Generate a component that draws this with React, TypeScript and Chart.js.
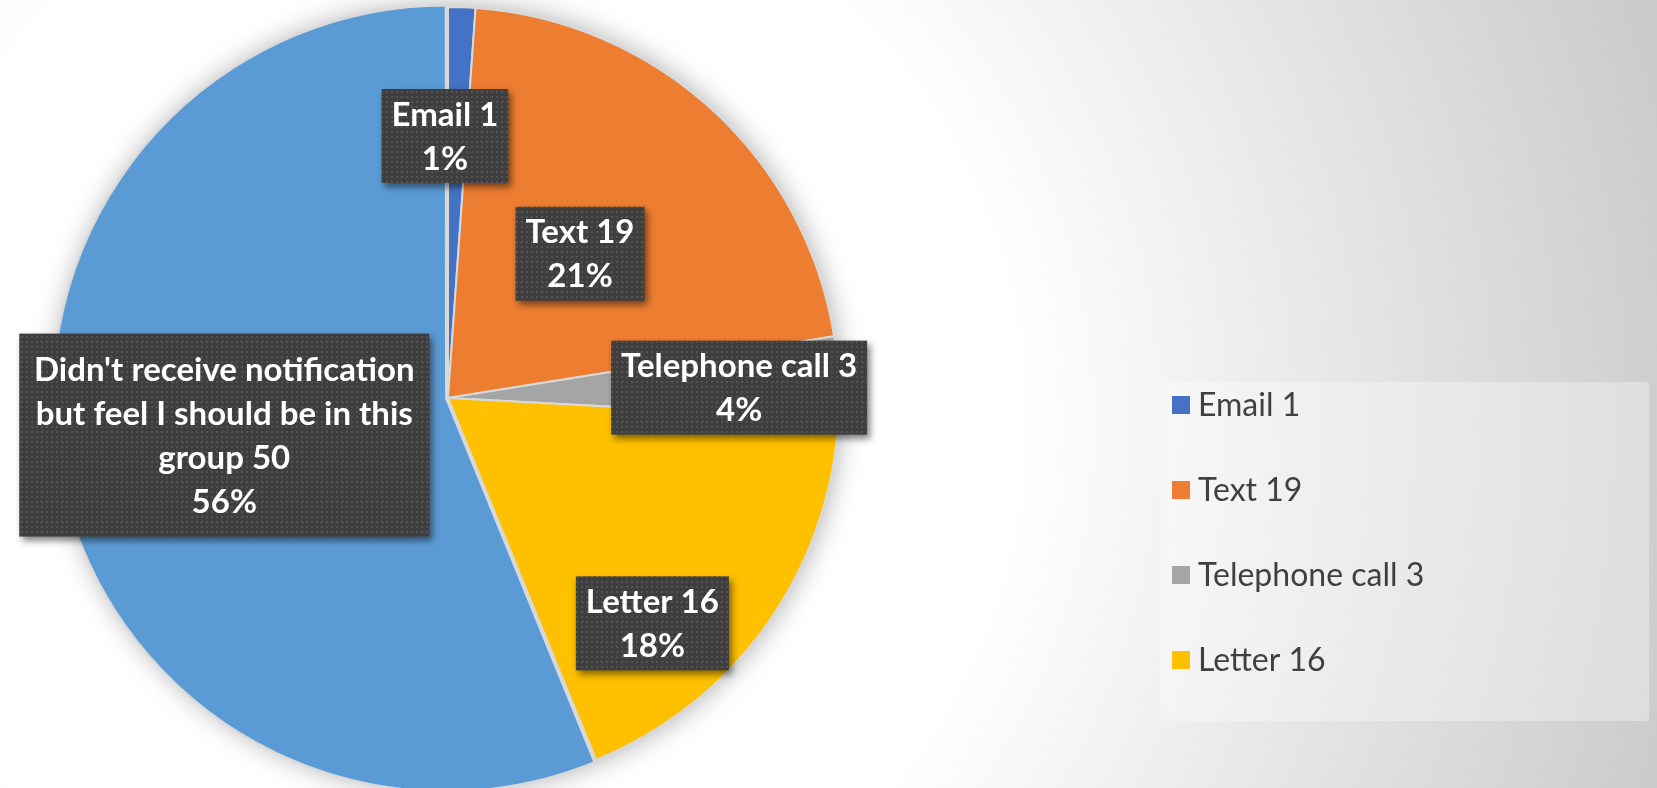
import React, { useEffect, useRef } from "react";
import { Chart, registerables } from "chart.js";

Chart.register(...registerables);

// ---- data ----
const CATEGORIES = [
  "Email",
  "Text",
  "Telephone call",
  "Letter",
  "Didn't receive notification but feel I should be in this group",
];
const COUNTS = [1, 19, 3, 16, 50];
const PERCENT_LABELS = ["1%", "21%", "4%", "18%", "56%"];
const COLORS = ["#4472C4", "#ED7D31", "#A5A5A5", "#FFC000", "#5B9BD5"];
const LEGEND_COUNT = 4; // the reference legend lists only the first four entries

// ---- label placement (style) ----
const LABEL_RADIUS = [0.67, 0.5, 0.745, 0.778, 0.58];
const LABEL_ANGLE_SHIFT = [-2.7, 0, 1, 12.4, 1.7];
const LABEL_WRAP: (number | null)[] = [null, null, null, null, 390];
const LABEL_PAD_Y = [3, 3, 3, 3, 13.5];
const LABEL_FONT = "bold 33px Lato";
const LABEL_LINE_H = 44;
const LABEL_PAD_X = 10;

function wrapText(ctx: CanvasRenderingContext2D, text: string, maxW: number | null): string[] {
  if (!maxW) return [text];
  const words = text.split(" ");
  const lines: string[] = [];
  let cur = "";
  for (const w of words) {
    const t = cur ? cur + " " + w : w;
    if (ctx.measureText(t).width > maxW && cur) {
      lines.push(cur);
      cur = w;
    } else cur = t;
  }
  if (cur) lines.push(cur);
  return lines;
}

function makePattern(ctx: CanvasRenderingContext2D) {
  const c = document.createElement("canvas");
  c.width = 5;
  c.height = 5;
  const p = c.getContext("2d")!;
  p.fillStyle = "#3e3e3e";
  p.fillRect(0, 0, 5, 5);
  p.fillStyle = "#545454";
  p.fillRect(1, 1, 2, 2);
  return ctx.createPattern(c, "repeat")!;
}

const bgPlugin = {
  id: "bg",
  beforeDraw(chart: any) {
    const { ctx, width, height } = chart;
    ctx.save();
    const g = ctx.createRadialGradient(450, 420, 0, 450, 420, 1260);
    g.addColorStop(0, "#ffffff");
    g.addColorStop(0.45, "#ffffff");
    g.addColorStop(1, "#cbcbcb");
    ctx.fillStyle = g;
    ctx.fillRect(0, 0, width, height);
    // legend panel
    ctx.fillStyle = "rgba(255,255,255,0.32)";
    ctx.fillRect(1161, 382, 488, 339);
    ctx.restore();
  },
};

const shadowPlugin = {
  id: "pieShadow",
  beforeDatasetsDraw(chart: any) {
    const meta = chart.getDatasetMeta(0);
    const arc = meta.data[0];
    if (!arc) return;
    const { x, y, outerRadius } = arc.getProps(["x", "y", "outerRadius"], true);
    const ctx = chart.ctx;
    ctx.save();
    ctx.shadowColor = "rgba(0,0,0,0.35)";
    ctx.shadowBlur = 28;
    ctx.fillStyle = "#d2d2d2";
    ctx.beginPath();
    ctx.arc(x, y, outerRadius, 0, Math.PI * 2);
    ctx.fill();
    ctx.restore();
  },
};

const labelPlugin = {
  id: "sliceLabels",
  afterDatasetsDraw(chart: any) {
    const ctx: CanvasRenderingContext2D = chart.ctx;
    const meta = chart.getDatasetMeta(0);
    const pattern = makePattern(ctx);
    meta.data.forEach((arc: any, i: number) => {
      const { x, y, startAngle, endAngle, outerRadius } = arc.getProps(
        ["x", "y", "startAngle", "endAngle", "outerRadius"],
        true
      );
      const mid = (startAngle + endAngle) / 2 + (LABEL_ANGLE_SHIFT[i] * Math.PI) / 180;
      const r = outerRadius * LABEL_RADIUS[i];
      const cx = x + Math.cos(mid) * r;
      const cy = y + Math.sin(mid) * r;
      ctx.save();
      ctx.font = LABEL_FONT;
      const lines = wrapText(ctx, chart.data.labels[i], LABEL_WRAP[i]).concat([PERCENT_LABELS[i]]);
      const textW = LABEL_WRAP[i] ?? Math.max(...lines.map((l) => ctx.measureText(l).width));
      const w = textW + 2 * LABEL_PAD_X;
      const h = lines.length * LABEL_LINE_H + 2 * LABEL_PAD_Y[i];
      const left = cx - w / 2;
      const top = cy - h / 2;
      ctx.shadowColor = "rgba(0,0,0,0.5)";
      ctx.shadowBlur = 7;
      ctx.shadowOffsetX = 3;
      ctx.shadowOffsetY = 4;
      ctx.fillStyle = pattern;
      ctx.fillRect(left, top, w, h);
      ctx.shadowColor = "transparent";
      ctx.fillStyle = "#ffffff";
      ctx.textAlign = "center";
      ctx.textBaseline = "middle";
      lines.forEach((l, k) => {
        ctx.fillText(l, cx, top + LABEL_PAD_Y[i] + LABEL_LINE_H * (k + 0.5) + 1);
      });
      ctx.restore();
    });
  },
};

const legendPlugin = {
  id: "sideLegend",
  afterDraw(chart: any) {
    const ctx: CanvasRenderingContext2D = chart.ctx;
    const labels = chart.data.labels as string[];
    const colors = chart.data.datasets[0].backgroundColor as string[];
    ctx.save();
    ctx.font = "32px Lato";
    ctx.textBaseline = "middle";
    ctx.textAlign = "left";
    for (let i = 0; i < LEGEND_COUNT; i++) {
      const yMid = 405 + i * 85;
      ctx.fillStyle = colors[i];
      ctx.fillRect(1172, yMid - 9, 18, 18);
      ctx.fillStyle = "#404040";
      ctx.fillText(labels[i], 1198, yMid + 1);
    }
    ctx.restore();
  },
};

export default function App() {
  const ref = useRef<HTMLCanvasElement>(null);
  useEffect(() => {
    const canvas = ref.current!;
    const chart = new Chart(canvas, {
      type: "pie",
      data: {
        labels: CATEGORIES.map((c, i) => `${c} ${COUNTS[i]}`),
        datasets: [
          {
            data: COUNTS,
            backgroundColor: COLORS,
            borderColor: "#d9d9d9",
            borderWidth: 2,
            offset: [0, 0, 0, 0, 8],
            radius: 391,
          } as any,
        ],
      },
      options: {
        responsive: false,
        animation: false,
        events: [],
        layout: { padding: { left: 57, top: 8, right: 818, bottom: 0 } },
        plugins: { legend: { display: false }, tooltip: { enabled: false } },
      },
      plugins: [bgPlugin, shadowPlugin, labelPlugin, legendPlugin],
    });
    return () => chart.destroy();
  }, []);
  return (
    <div style={{ position: "absolute", left: 0, top: 0, width: 1657, height: 788, overflow: "hidden" }}>
      <canvas ref={ref} width={1657} height={788} style={{ display: "block", width: 1657, height: 788 }} />
    </div>
  );
}
